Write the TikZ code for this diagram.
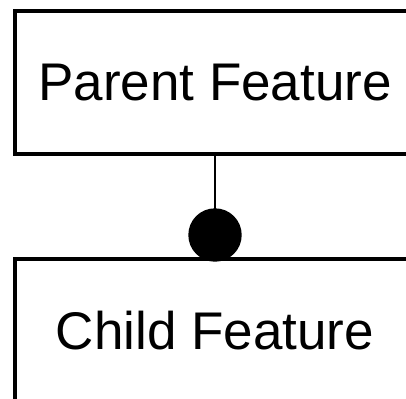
\documentclass[tikz,border=0pt]{standalone}
\usepackage{fontspec}
\setmainfont{Liberation Sans}
\begin{document}
\begin{tikzpicture}[x=1pt,y=-1pt,
  feature/.style={draw, line width=4pt, minimum width=400.6pt, minimum height=142.7pt, inner sep=0pt, font=\fontsize{53}{60}\selectfont},
  mandatory/.style={circle, fill=black, minimum size=53.4pt, inner sep=0pt},
  link/.style={line width=1.3pt}]
\useasboundingbox (0,0) rectangle (406,398);
\clip (0,0) rectangle (406,398);
\node[feature] (parent) at (215,82.7) {Parent Feature};
\node[feature] (child) at (215,330.1) {Child Feature};
\node[mandatory] (dot) at (215,235) {};
\draw[link] (parent.south) -- (dot.center);
\end{tikzpicture}
\end{document}
